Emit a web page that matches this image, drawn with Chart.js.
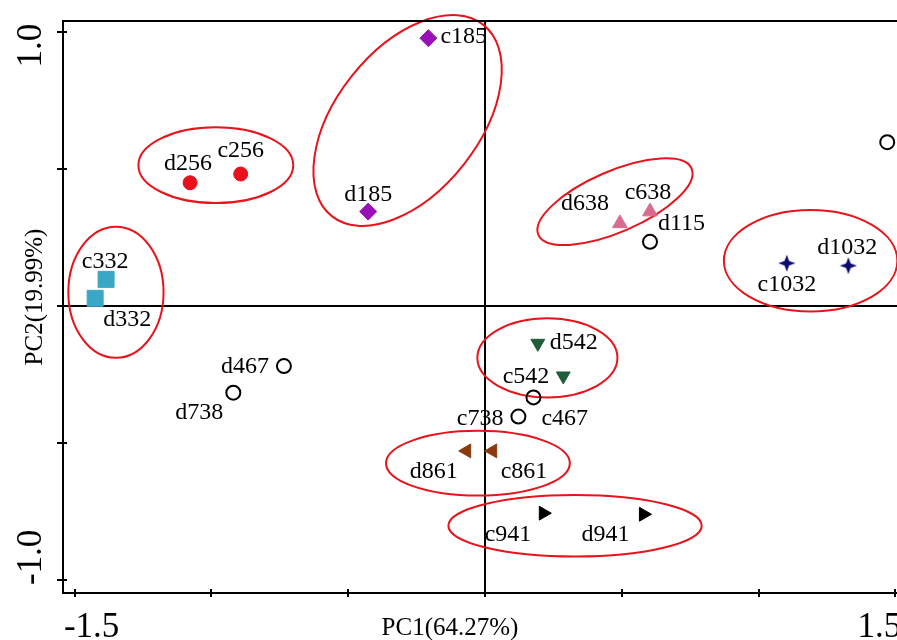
<!DOCTYPE html>
<html>
<head>
<meta charset="utf-8">
<script src="https://cdn.jsdelivr.net/npm/chart.js@4.4.1/dist/chart.umd.min.js"></script>
<style>
html,body{margin:0;padding:0;background:#fff;overflow:hidden;}
#wrap{width:960px;height:640px;position:relative;}
</style>
</head>
<body>
<div id="wrap"><canvas id="c" width="960" height="640"></canvas></div>
<script>
// ---------------- DATA ----------------
const sampleNames = ['c185','d185','d256','c256','c332','d332','d638','c638','d115','c115','c1032','d1032','d467','d738','d542','c542','c467','c738','d861','c861','c941','d941'];
const pc1 = [-0.207,-0.427,-1.078,-0.893,-1.385,-1.425,0.493,0.603,0.603,1.470,1.103,1.328,-0.735,-0.920,0.193,0.286,0.177,0.122,-0.067,0.028,0.213,0.579];
const pc2 = [0.976,0.344,0.449,0.481,0.097,0.028,0.301,0.344,0.234,0.597,0.156,0.147,-0.219,-0.316,-0.136,-0.255,-0.333,-0.403,-0.528,-0.528,-0.755,-0.759];
const sampleGroup = ['185','185','256','256','332','332','638','638','none','none','1032','1032','none','none','542','542','none','none','861','861','941','941'];
const groupNames = ['185','256','332','638','1032','542','861','941','none'];

// confidence ellipses (data units): centre, semi-axes, tilt in degrees
const ellipseGroups = ['256','332','185','638','1032','542','861','941'];
const ellipseCx = [-0.984,-1.349,-0.283,0.475,1.190,0.228,-0.026,0.329];
const ellipseCy = [0.513,0.050,0.676,0.380,0.165,-0.189,-0.573,-0.801];
const ellipseRx = [0.283,0.174,0.446,0.305,0.317,0.256,0.336,0.463];
const ellipseRy = [0.138,0.239,0.260,0.111,0.185,0.144,0.118,0.112];
const ellipseAngle = [0,0,51.6,23.4,0,0,0,0];

const xTickValues = [-1.5,-1.0,-0.5,0,0.5,1.0,1.5];
const xTickLabels = ['-1.5','','','','','','1.5'];
const yTickValues = [-1.0,-0.5,0,0.5,1.0];
const yTickLabels = ['-1.0','','','','1.0'];
const xTitle = 'PC1(64.27%)';
const yTitle = 'PC2(19.99%)';

// ---------------- STYLE ----------------
function makeStar(color){
  const cv = document.createElement('canvas');
  cv.width = 18; cv.height = 18;
  const g = cv.getContext('2d');
  g.fillStyle = color;
  g.beginPath();
  for(let i=0;i<8;i++){
    const a = i*Math.PI/4 - Math.PI/2;
    const r = (i%2===0) ? 8.6 : 3.3;
    const px = 9 + r*Math.cos(a), py = 9 + r*Math.sin(a);
    if(i===0) g.moveTo(px,py); else g.lineTo(px,py);
  }
  g.closePath(); g.fill();
  return cv;
}
const groupStyle = {
  '185': {ps:'rectRot', r:8.5, fill:'#9a10b8', border:'#9a10b8', bw:1, rot:0},
  '256': {ps:'circle', r:7, fill:'#e8101c', border:'#e8101c', bw:1, rot:0},
  '332': {ps:'rect', r:11.3, fill:'#3aa7c6', border:'#3aa7c6', bw:1, rot:0},
  '638': {ps:'triangle', r:8.5, fill:'#d96a90', border:'#d96a90', bw:1, rot:0},
  '1032': {ps:makeStar('#0c0c70'), r:9, fill:'#0c0c70', border:'#0c0c70', bw:1, rot:0},
  '542': {ps:'triangle', r:8, fill:'#1f5c38', border:'#1f5c38', bw:1, rot:180},
  '861': {ps:'triangle', r:8, fill:'#8b3a10', border:'#8b3a10', bw:1, rot:-90},
  '941': {ps:'triangle', r:8, fill:'#000000', border:'#000000', bw:1, rot:90},
  'none': {ps:'circle', r:7, fill:'rgba(0,0,0,0)', border:'#000000', bw:2, rot:0}
};
// label placement: [align, dx, baseline dy] relative to the marker centre (px)
const labelPlace = {
  c185:['left',12,5], d185:['center',0,-11], d256:['center',-2,-13], c256:['center',0,-17],
  c332:['center',-1,-11], d332:['left',8,28], d638:['right',-11,-13], c638:['center',-2,-13],
  d115:['left',8,-12], c115:['left',12,6], c1032:['center',0,28], d1032:['center',-1,-12],
  d467:['right',-15,7], d738:['right',-10,26], d542:['left',12,6], c542:['right',-14,7],
  c467:['left',8,28], c738:['right',-15,8], d861:['right',-9,27], c861:['left',8,27],
  c941:['right',-12,28], d941:['right',-14,27]
};
const SERIF = '"Liberation Serif","Times New Roman",serif';

// ---------------- BUILD ----------------
const datasets = groupNames.map(gname => {
  const st = groupStyle[gname];
  const pts = [];
  sampleNames.forEach((n,i) => { if(sampleGroup[i]===gname) pts.push({x:pc1[i], y:pc2[i], name:n}); });
  return {
    label: gname, data: pts,
    pointStyle: st.ps, pointRadius: st.r, pointBackgroundColor: st.fill,
    pointBorderColor: st.border, pointBorderWidth: st.bw, pointRotation: st.rot,
    showLine:false, clip:false
  };
});

const decor = {
  id:'decor',
  beforeDatasetsDraw(chart){
    const ctx = chart.ctx, a = chart.chartArea, xs = chart.scales.x, ys = chart.scales.y;
    ctx.save();
    ctx.strokeStyle = '#000'; ctx.lineWidth = 2;
    const x0 = Math.round(xs.getPixelForValue(0)), y0 = Math.round(ys.getPixelForValue(0));
    ctx.beginPath();
    ctx.moveTo(x0, a.top); ctx.lineTo(x0, a.bottom);
    ctx.moveTo(a.left, y0); ctx.lineTo(a.right, y0);
    ctx.stroke();
    // ellipses
    ctx.strokeStyle = '#e8141c'; ctx.lineWidth = 2;
    ellipseGroups.forEach((g,i) => {
      const cx = xs.getPixelForValue(ellipseCx[i]);
      const cy = ys.getPixelForValue(ellipseCy[i]);
      const rx = Math.abs(xs.getPixelForValue(ellipseCx[i]+ellipseRx[i]) - cx);
      const ry = Math.abs(ys.getPixelForValue(ellipseCy[i]+ellipseRy[i]) - cy);
      ctx.beginPath();
      ctx.ellipse(cx, cy, rx, ry, -ellipseAngle[i]*Math.PI/180, 0, Math.PI*2);
      ctx.stroke();
    });
    ctx.restore();
  },
  afterDraw(chart){
    const ctx = chart.ctx, a = chart.chartArea, xs = chart.scales.x, ys = chart.scales.y;
    ctx.save();
    // frame
    ctx.strokeStyle = '#000'; ctx.lineWidth = 2;
    ctx.beginPath();
    ctx.moveTo(a.right, a.top); ctx.lineTo(a.left, a.top); ctx.lineTo(a.left, a.bottom); ctx.lineTo(a.right, a.bottom);
    ctx.stroke();
    // ticks
    ctx.beginPath();
    yTickValues.forEach(v => { const p = Math.round(ys.getPixelForValue(v)); ctx.moveTo(a.left-6, p); ctx.lineTo(a.left+4, p); });
    xTickValues.forEach(v => { const p = Math.round(xs.getPixelForValue(v)); ctx.moveTo(p, a.bottom-4); ctx.lineTo(p, a.bottom+4); });
    ctx.stroke();
    ctx.fillStyle = '#000';
    // x tick labels
    ctx.font = '35px ' + SERIF; ctx.textBaseline = 'alphabetic'; ctx.textAlign = 'center';
    xTickValues.forEach((v,i) => {
      if(!xTickLabels[i]) return;
      const off = v < 0 ? 17 : -16;
      ctx.fillText(xTickLabels[i], xs.getPixelForValue(v)+off, 637);
    });
    // y tick labels (rotated)
    yTickValues.forEach((v,i) => {
      if(!yTickLabels[i]) return;
      const off = v > 0 ? 14 : -23;
      ctx.save();
      ctx.translate(41, ys.getPixelForValue(v)+off);
      ctx.rotate(-Math.PI/2);
      ctx.fillText(yTickLabels[i], 0, 0);
      ctx.restore();
    });
    // axis titles
    ctx.font = '25px ' + SERIF;
    ctx.fillText(xTitle, 450, 635);
    ctx.save();
    ctx.translate(42, 297); ctx.rotate(-Math.PI/2);
    ctx.fillText(yTitle, 0, 0);
    ctx.restore();
    // point labels
    ctx.font = '24px ' + SERIF;
    chart.data.datasets.forEach((ds, di) => {
      const meta = chart.getDatasetMeta(di);
      ds.data.forEach((pt, j) => {
        const el = meta.data[j];
        const pl = labelPlace[pt.name];
        if(!pl) return;
        ctx.textAlign = pl[0];
        ctx.fillText(pt.name, el.x + pl[1], el.y + pl[2]);
      });
    });
    ctx.restore();
  }
};

new Chart(document.getElementById('c'), {
  type:'scatter',
  data:{datasets},
  options:{
    responsive:false, animation:false, events:[],
    layout:{autoPadding:false, padding:{left:63, top:21, right:0, bottom:47}},
    plugins:{legend:{display:false}, tooltip:{enabled:false}},
    scales:{
      x:{type:'linear', display:false, min:-1.5425, max:1.736},
      y:{type:'linear', display:false, min:-1.0459, max:1.0386}
    }
  },
  plugins:[decor]
});
</script>
</body>
</html>
